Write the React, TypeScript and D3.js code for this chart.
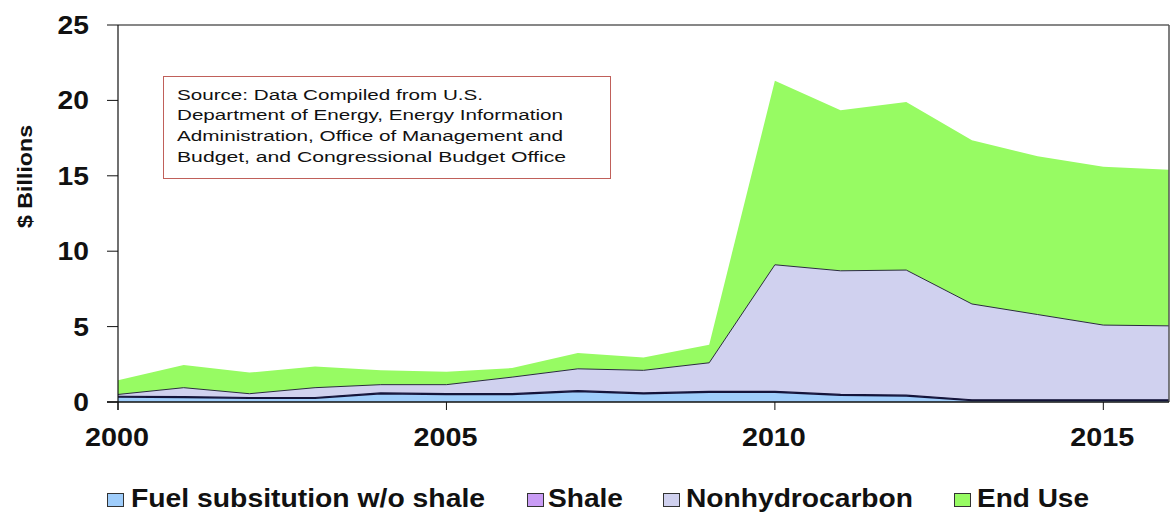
import React from "react";
import * as d3 from "d3";

const years = [2000, 2001, 2002, 2003, 2004, 2005, 2006, 2007, 2008, 2009, 2010, 2011, 2012, 2013, 2014, 2015, 2016];
const fuelSub = [0.33, 0.3, 0.25, 0.25, 0.55, 0.5, 0.5, 0.7, 0.55, 0.65, 0.65, 0.45, 0.4, 0.1, 0.1, 0.1, 0.1];
const shale = [0.05, 0.05, 0.05, 0.05, 0.05, 0.05, 0.05, 0.05, 0.05, 0.05, 0.05, 0.05, 0.05, 0.05, 0.05, 0.05, 0.05];
const nonhydro = [0.12, 0.6, 0.25, 0.65, 0.55, 0.6, 1.1, 1.45, 1.5, 1.9, 8.4, 8.2, 8.3, 6.35, 5.65, 4.95, 4.9];
const endUse = [0.95, 1.5, 1.4, 1.4, 0.95, 0.85, 0.6, 1.05, 0.85, 1.2, 12.2, 10.65, 11.15, 10.85, 10.5, 10.5, 10.35];

const seriesNames = ["Fuel subsitution w/o shale", "Shale", "Nonhydrocarbon", "End Use"];
const seriesColors = ["#9fcdfb", "#c99cf5", "#d0d1ef", "#97fb63"];
const yTicks = [0, 5, 10, 15, 20, 25];
const xTicks = [2000, 2005, 2010, 2015];
const sourceLines = [
  "Source: Data Compiled from U.S.",
  "Department  of Energy, Energy Information",
  "Administration, Office of Management and",
  "Budget, and Congressional Budget Office",
];

const FONT = "'Liberation Sans', Arial, sans-serif";

export default function App() {
  const W = 1171, H = 512;
  const left = 118, right = 1169, top = 25, bottom = 402;
  const x = d3.scaleLinear().domain([2000, 2016]).range([left, right]);
  const y = d3.scaleLinear().domain([0, 25]).range([bottom, top]);

  const table = years.map((yr, i) => ({ year: yr, s0: fuelSub[i], s1: shale[i], s2: nonhydro[i], s3: endUse[i] }));
  const keys = ["s0", "s1", "s2", "s3"];
  const stacked = d3.stack<any>().keys(keys)(table);
  const area = d3.area<any>().x((d) => x(d.data.year)).y0((d) => y(d[0])).y1((d) => y(d[1]));
  const topLine = d3.line<any>().x((d) => x(d.data.year)).y((d) => y(d[1]));

  const legendItems = [
    { sq: 107, tx: 131, w: 354 },
    { sq: 527, tx: 548, w: 75 },
    { sq: 663, tx: 686, w: 227 },
    { sq: 954, tx: 977, w: 112 },
  ];
  const srcWidths = [306, 386, 386, 389];
  const srcBase = [99.5, 120, 141, 162];

  return (
    <svg width={W} height={H} style={{ position: "absolute", left: 0, top: 0, background: "#fff" }}>
      <rect x={0} y={0} width={W} height={H} fill="#fff" />
      {stacked.map((s, i) => (
        <path key={i} d={area(s) || ""} fill={seriesColors[i]} stroke="none" />
      ))}
      <path d={topLine(stacked[2]) || ""} fill="none" stroke="#2a2a40" strokeWidth={1} />
      <path d={topLine(stacked[0]) || ""} fill="none" stroke="#14143a" strokeWidth={1.6} />
      <path d={topLine(stacked[1]) || ""} fill="none" stroke="#14143a" strokeWidth={1.2} />

      <line x1={left} x2={right} y1={top} y2={top} stroke="#111" strokeWidth={1.2} />
      <line x1={right} x2={right} y1={top} y2={bottom} stroke="#555" strokeWidth={1.5} />
      <line x1={left} x2={left} y1={top} y2={bottom + 8} stroke="#111" strokeWidth={1.2} />
      <line x1={left - 11} x2={right} y1={bottom} y2={bottom} stroke="#111" strokeWidth={1.5} />

      {yTicks.map((t) => (
        <g key={t}>
          <line x1={left - 11} x2={left} y1={y(t)} y2={y(t)} stroke="#111" strokeWidth={1} />
          <text
            transform={`translate(89,${y(t) + 9}) scale(1.13,1)`}
            textAnchor="end"
            fontFamily={FONT}
            fontWeight="bold"
            fontSize={25}
            fill="#111"
          >
            {t}
          </text>
        </g>
      ))}
      {xTicks.map((t) => (
        <g key={t}>
          <line x1={x(t)} x2={x(t)} y1={bottom} y2={bottom + 8} stroke="#111" strokeWidth={1} />
          <text
            transform={`translate(${x(t) - 1},446) scale(1.15,1)`}
            textAnchor="middle"
            fontFamily={FONT}
            fontWeight="bold"
            fontSize={25}
            fill="#111"
          >
            {t}
          </text>
        </g>
      ))}
      <text
        transform={`translate(32,176.5) rotate(-90)`}
        textAnchor="middle"
        fontFamily={FONT}
        fontWeight="bold"
        fontSize={20}
        fill="#111"
        textLength={103}
        lengthAdjust="spacingAndGlyphs"
      >
        $ Billions
      </text>

      <rect x={163.5} y={76.5} width={447} height={102} fill="#fff" stroke="#c0605a" strokeWidth={1} />
      {sourceLines.map((l, i) => (
        <text
          key={i}
          x={177}
          y={srcBase[i]}
          fontFamily={FONT}
          fontSize={15.5}
          fill="#111"
          textLength={srcWidths[i]}
          lengthAdjust="spacingAndGlyphs"
        >
          {l}
        </text>
      ))}

      {seriesNames.map((n, i) => (
        <g key={n}>
          <rect x={legendItems[i].sq + 0.5} y={493.5} width={16} height={13} fill={seriesColors[i]} stroke="#333" strokeWidth={1} />
          <text
            x={legendItems[i].tx}
            y={507}
            fontFamily={FONT}
            fontWeight="bold"
            fontSize={26}
            fill="#111"
            textLength={legendItems[i].w}
            lengthAdjust="spacingAndGlyphs"
          >
            {n}
          </text>
        </g>
      ))}
    </svg>
  );
}
